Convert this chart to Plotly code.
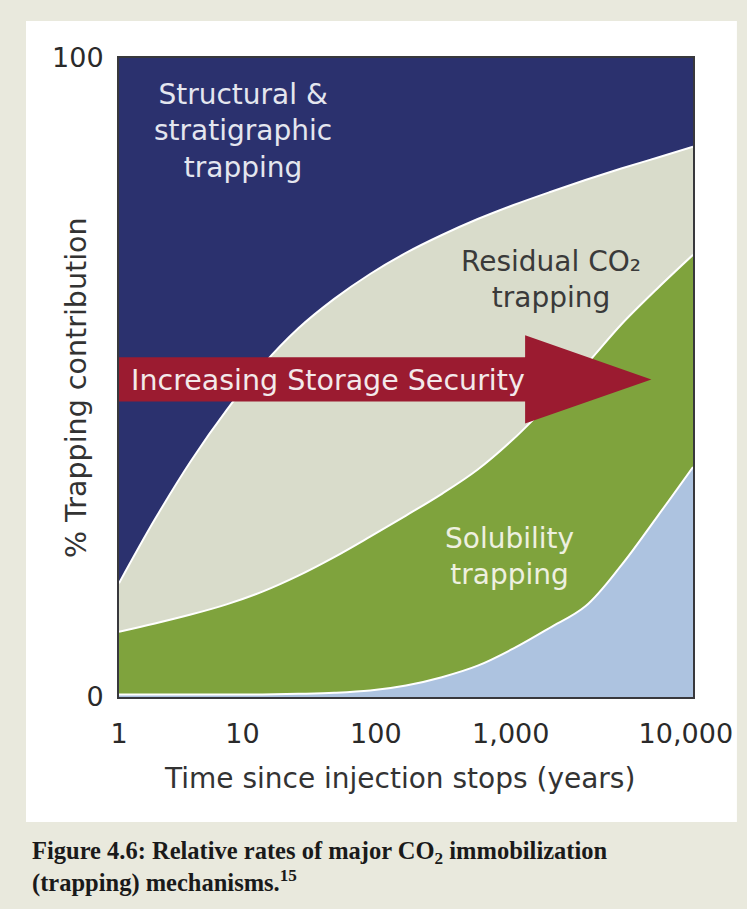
import plotly.graph_objects as go

# Schematic time axis: 0-4 spans the four decades after injection stops,
# sampled every quarter decade. Each boundary is the cumulative % of
# trapping at the top of that band.
time_pos = [0.0, 0.25, 0.5, 0.75, 1.0, 1.25, 1.5, 1.75, 2.0,
            2.25, 2.5, 2.75, 3.0, 3.25, 3.5, 3.75, 4.0]

mineral_pct = [0.4, 0.4, 0.4, 0.4, 0.4, 0.5, 0.65, 1.0, 1.8,
               3.1, 4.9, 7.6, 10.8, 14.2, 20.6, 28.2, 36.0]
solubility_pct = [10.2, 11.5, 12.9, 14.5, 16.5, 19.0, 21.9, 25.1, 28.4,
                  31.8, 35.6, 40.4, 46.0, 51.9, 58.3, 63.9, 69.2]
residual_pct = [17.8, 27.8, 36.9, 44.9, 51.9, 57.7, 62.3, 66.2, 69.5,
                72.3, 74.8, 77.0, 79.0, 80.9, 82.7, 84.4, 86.1]
structural_pct = [100] * len(time_pos)

# Time tick labels and where they sit along the schematic axis
tick_pos = [0.0, 0.86, 1.79, 2.73, 3.95]
tick_labels = ["1", "10", "100", "1,000", "10,000"]

NAVY = "#2b316e"
BEIGE = "#d9dccb"
GREEN = "#7fa33d"
LIGHT_BLUE = "#adc3e0"
ARROW_RED = "#9b1b30"
PAGE_BG = "#e9e9dd"
SANS = "DejaVu Sans"

fig = go.Figure()

bands = [
    (mineral_pct, "tozeroy", LIGHT_BLUE, 2),
    (solubility_pct, "tonexty", GREEN, 2),
    (residual_pct, "tonexty", BEIGE, 2),
    (structural_pct, "tonexty", NAVY, 0),
]
for ys, fill, color, lw in bands:
    fig.add_trace(go.Scatter(
        x=time_pos, y=ys, mode="lines", fill=fill, fillcolor=color,
        line=dict(color="white", width=lw, shape="spline", smoothing=1.0),
        hoverinfo="skip", showlegend=False,
    ))

# "Increasing Storage Security" arrow
ay, body_half, head_half, head_start, tip = 49.7, 3.45, 6.9, 2.83, 3.71
arrow_path = (
    f"M 0,{ay - body_half} L {head_start},{ay - body_half} "
    f"L {head_start},{ay - head_half} L {tip},{ay} "
    f"L {head_start},{ay + head_half} L {head_start},{ay + body_half} "
    f"L 0,{ay + body_half} Z"
)
fig.add_shape(type="path", path=arrow_path, xref="x", yref="y",
              fillcolor=ARROW_RED, line=dict(width=0), layer="above")

# White card behind the chart
fig.add_shape(type="rect", xref="paper", yref="paper",
              x0=-0.162, x1=1.0765, y0=-0.1956, y1=1.058,
              fillcolor="white", line=dict(width=0), layer="below")

band_labels = [
    ("Structural &<br>stratigraphic<br>trapping", 0.866, 88.5, "#e4e6ef"),
    ("Residual CO₂<br>trapping", 3.01, 65.3, "#3a3a3a"),
    ("Solubility<br>trapping", 2.72, 22.0, "#eef0e0"),
]
for text, x, y, color in band_labels:
    fig.add_annotation(text=text, x=x, y=y, xref="x", yref="y",
                       showarrow=False, align="center",
                       font=dict(family=SANS, size=28, color=color))

fig.add_annotation(text="Increasing Storage Security", x=0.07, y=49.6,
                   xref="x", yref="y", xanchor="left", yanchor="middle",
                   showarrow=False,
                   font=dict(family=SANS, size=28.5, color="#f3e9ea"))

# Axis titles
fig.add_annotation(text="% Trapping contribution", x=-0.075, y=0.485,
                   xref="paper", yref="paper", textangle=-90,
                   showarrow=False, xanchor="center", yanchor="middle",
                   font=dict(family=SANS, size=28.5, color="#333333"))
fig.add_annotation(text="Time since injection stops (years)", x=0.4895, y=-0.128,
                   xref="paper", yref="paper", showarrow=False,
                   xanchor="center", yanchor="middle",
                   font=dict(family=SANS, size=28, color="#333333"))

# Figure caption
caption_font = dict(family="Liberation Serif", size=24.5, color="#1a1a1a")
fig.add_annotation(
    text="<b>Figure 4.6: Relative rates of major CO<sub>2</sub> immobilization</b>",
    x=-0.155, y=-0.243, xref="paper", yref="paper", xanchor="left",
    yanchor="middle", showarrow=False, font=caption_font)
fig.add_annotation(
    text="<b>(trapping) mechanisms.<sup>15</sup></b>",
    x=-0.155, y=-0.288, xref="paper", yref="paper", xanchor="left",
    yanchor="middle", showarrow=False, font=caption_font)

axis_common = dict(
    showline=True, mirror=True, linecolor="#38383c", linewidth=2,
    showgrid=False, zeroline=False, ticks="outside",
    tickcolor="rgba(0,0,0,0)",
    tickfont=dict(family=SANS, size=27, color="#2a2a2a"),
)
fig.update_xaxes(range=[0, 4], tickmode="array", tickvals=tick_pos,
                 ticktext=tick_labels, ticklen=12, **axis_common)
fig.update_yaxes(range=[0, 100], tickmode="array", tickvals=[0, 100],
                 ticktext=["0", "100"], ticklen=8, **axis_common)

fig.update_layout(
    width=747, height=909,
    margin=dict(l=119, r=54, t=58, b=212),
    paper_bgcolor=PAGE_BG, plot_bgcolor=NAVY,
    showlegend=False,
)

fig.write_html("out.html")
